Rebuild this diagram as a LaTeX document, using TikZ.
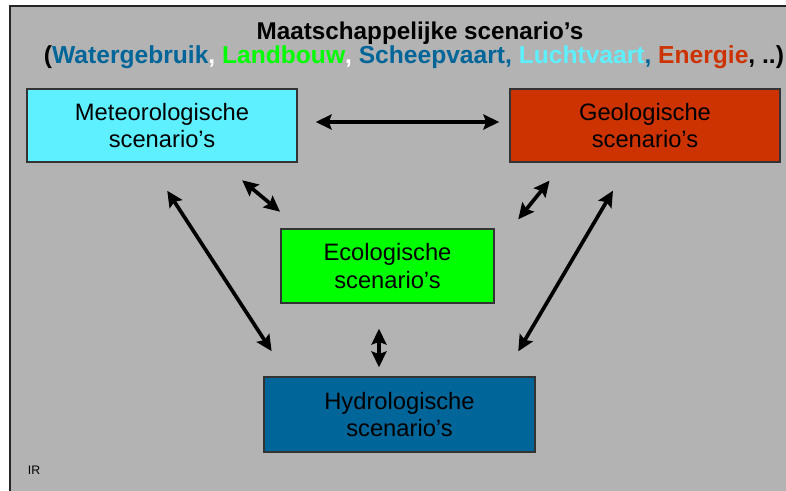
\documentclass[tikz,border=0pt]{standalone}
\usepackage{fontspec}
\setmainfont{Liberation Sans}
\usetikzlibrary{arrows.meta}

\definecolor{slidegray}{RGB}{179,179,179}
\definecolor{meteocyan}{RGB}{94,240,255}
\definecolor{geored}{RGB}{204,51,0}
\definecolor{ecogreen}{RGB}{0,255,0}
\definecolor{hydroblue}{RGB}{0,102,153}

\tikzset{
    scenbox/.style={draw=black!80, line width=0.8pt, align=center,
        minimum width=5.4cm, minimum height=1.46cm,
        font=\fontsize{13.5}{15.5}\selectfont},
    link/.style={{Stealth[length=9pt,width=8.5pt,inset=1.5pt]}-{Stealth[length=9pt,width=8.5pt,inset=1.5pt]},
        line width=2.1pt}
}

\begin{document}
\begin{tikzpicture}
        \useasboundingbox (0,0) rectangle (15.72,-9.82);
        \clip (0,0) rectangle (15.72,-9.82);

        % Draw the slide background
        \fill[white] (0,0) rectangle (15.72,-9.82);
        \fill[slidegray] (0.2,-0.12) rectangle (16,-10);
        \draw[black!85, line width=1.1pt] (0.2,-10) -- (0.2,-0.12) -- (16,-0.12);

        % Title
        \node (title) at (8.4,-0.66) {\fontsize{13.8}{15}\selectfont\bfseries Maatschappelijke scenario’s};
        \node (subtitle) at (8.28,-1.14) {\fontsize{14}{15}\selectfont\bfseries
            (\textcolor{hydroblue}{Watergebruik}\textcolor{white}{,}
            \textcolor{ecogreen}{Landbouw}\textcolor{white}{,}
            \textcolor{hydroblue}{Scheepvaart,}
            \textcolor{meteocyan}{Luchtvaart}\textcolor{hydroblue}{,}
            \textcolor{geored}{Energie}, ..)};

        % Draw the four scenario boxes
        \node[scenbox, fill=meteocyan] (meteo) at (3.24,-2.51) {Meteorologische\\scenario’s};
        \node[scenbox, fill=geored] (geo) at (12.9,-2.51) {Geologische\\scenario’s};
        \node[scenbox, fill=ecogreen, minimum width=4.26cm, minimum height=1.48cm]
            (eco) at (7.75,-5.32) {Ecologische\\scenario’s};
        \node[scenbox, fill=hydroblue, minimum width=5.42cm, minimum height=1.5cm]
            (hydro) at (7.99,-8.29) {Hydrologische\\scenario’s};

        % Draw the links between the boxes
        \draw[link, shorten <=0.36cm, shorten >=0.2cm] ([yshift=0.07cm]meteo.east) -- ([yshift=0.07cm]geo.west);
        \draw[link, shorten <=0.55cm, shorten >=0.52cm] ([xshift=1.18cm]meteo.south) -- ([xshift=-1.75cm]eco.north);
        \draw[link, shorten <=0.46cm, shorten >=0.23cm] ([xshift=-1.62cm]geo.south) -- ([xshift=2.47cm]eco.north);
        \draw[link, shorten <=0.67cm, shorten >=0.6cm] ([xshift=-0.26cm]meteo.south) -- ([xshift=-2.23cm]hydro.north);
        \draw[link, shorten <=0.65cm, shorten >=0.58cm] ([xshift=-0.31cm]geo.south) -- ([xshift=2.08cm]hydro.north);
        \draw[link, shorten <=0.5cm, shorten >=0.18cm] ([xshift=-0.17cm]eco.south) -- ([xshift=-0.17cm]eco.south |- hydro.north);

        % Footer
        \node[font=\fontsize{7}{8}\selectfont] (footer) at (0.68,-9.4) {IR};
\end{tikzpicture}
\end{document}
